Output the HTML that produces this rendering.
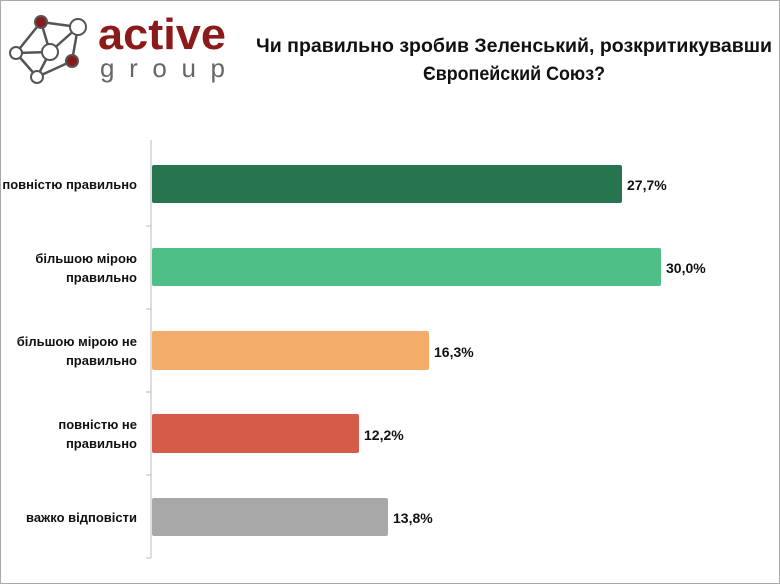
<!DOCTYPE html>
<html><head><meta charset="utf-8"><style>
html,body{margin:0;padding:0;background:#fff;}
svg{display:block;}
</style></head><body>
<svg width="780" height="585" viewBox="0 0 780 585" xmlns="http://www.w3.org/2000/svg" font-family="'Liberation Sans', sans-serif">
<rect x="0.5" y="0.5" width="779" height="583" fill="#fff" stroke="#aaa" stroke-width="1"/>
<g stroke="#555" stroke-width="2.5" fill="none">
<line x1="41" y1="22" x2="78" y2="27"/>
<line x1="41" y1="22" x2="16" y2="53"/>
<line x1="41" y1="22" x2="50" y2="52"/>
<line x1="78" y1="27" x2="50" y2="52"/>
<line x1="78" y1="27" x2="72" y2="61"/>
<line x1="16" y1="53" x2="50" y2="52"/>
<line x1="16" y1="53" x2="37" y2="77"/>
<line x1="50" y1="52" x2="37" y2="77"/>
<line x1="72" y1="61" x2="37" y2="77"/>
</g>
<g stroke="#555" stroke-width="2">
<circle cx="41" cy="22" r="6" fill="#8b1a1a"/>
<circle cx="78" cy="27" r="8" fill="#fff"/>
<circle cx="16" cy="53" r="6" fill="#fff"/>
<circle cx="50" cy="52" r="8" fill="#fff"/>
<circle cx="72" cy="61" r="6" fill="#8b1a1a"/>
<circle cx="37" cy="77" r="6" fill="#fff"/>
</g>
<text x="98" y="49" font-size="44" font-weight="bold" fill="#8b1a1a" textLength="128" lengthAdjust="spacingAndGlyphs">active</text>
<text x="100" y="77" font-size="26" fill="#666" textLength="125" lengthAdjust="spacing">group</text>
<g font-size="19" font-weight="bold" fill="#111" text-anchor="middle">
<text x="514" y="52" textLength="516" lengthAdjust="spacingAndGlyphs">Чи правильно зробив Зеленський, розкритикувавши</text>
<text x="514" y="80" textLength="182" lengthAdjust="spacingAndGlyphs">Європейский Союз?</text>
</g>
<line x1="151" y1="140" x2="151" y2="558" stroke="#bbb" stroke-width="1"/>
<g stroke="#bbb"><line x1="146" y1="226" x2="151" y2="226"/><line x1="146" y1="309" x2="151" y2="309"/><line x1="146" y1="392" x2="151" y2="392"/><line x1="146" y1="475" x2="151" y2="475"/><line x1="146" y1="558" x2="151" y2="558"/></g>
<rect x="152" y="165" width="470" height="38" rx="2" fill="#267550"/>
<rect x="152" y="248" width="509" height="38" rx="2" fill="#4fbf88"/>
<rect x="152" y="331" width="277" height="39" rx="2" fill="#f4ac6a"/>
<rect x="152" y="414" width="207" height="39" rx="2" fill="#d45c48"/>
<rect x="152" y="498" width="236" height="38" rx="2" fill="#a8a8a8"/>
<g font-size="14" font-weight="bold" fill="#111">
<text x="627" y="190">27,7%</text>
<text x="666" y="273">30,0%</text>
<text x="434" y="357">16,3%</text>
<text x="364" y="440">12,2%</text>
<text x="393" y="523">13,8%</text>
</g>
<g font-size="13" font-weight="bold" fill="#111" text-anchor="end">
<text x="137" y="189">повністю правильно</text>
<text x="137" y="263">більшою мірою</text>
<text x="137" y="282">правильно</text>
<text x="137" y="346">більшою мірою не</text>
<text x="137" y="365">правильно</text>
<text x="137" y="429">повністю не</text>
<text x="137" y="448">правильно</text>
<text x="137" y="522">важко відповісти</text>
</g>
</svg>
</body></html>
